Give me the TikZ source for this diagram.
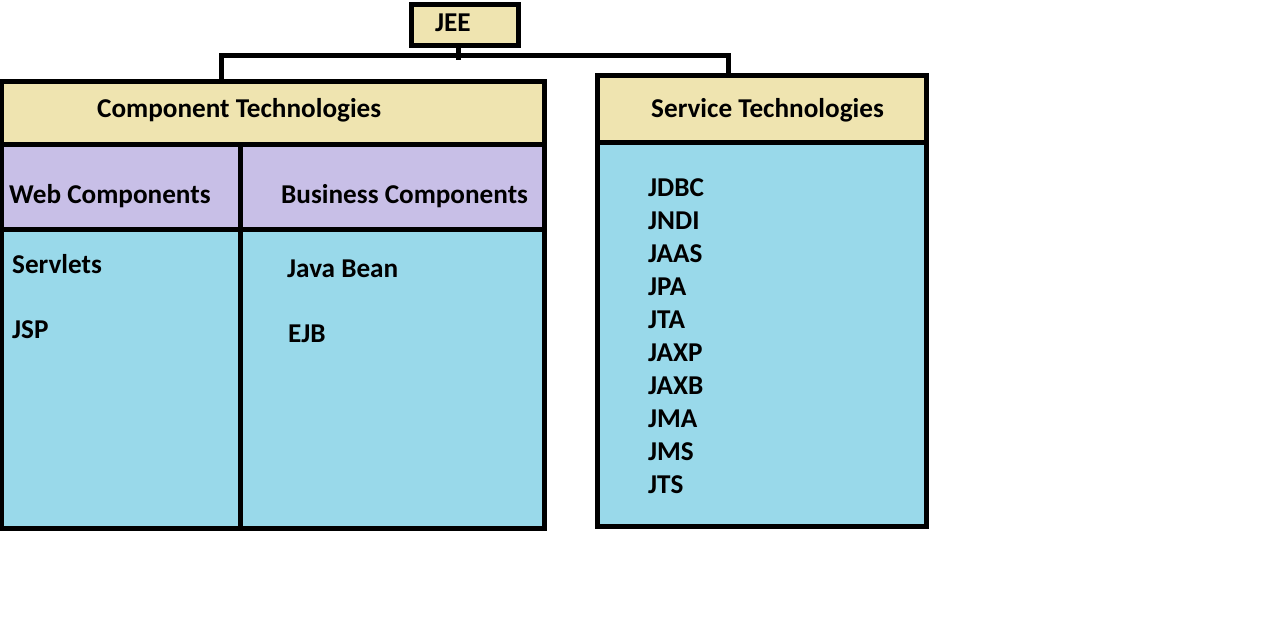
\documentclass[tikz,border=0pt]{standalone}
\usepackage{fontspec}
\setmainfont{Carlito}
\definecolor{beige}{RGB}{239,228,176}
\definecolor{lav}{RGB}{200,191,231}
\definecolor{sky}{RGB}{153,217,234}
\begin{document}
\begin{tikzpicture}[x=1pt,y=-1pt,
  box/.style={draw=black,line width=5pt,inner sep=0pt,outer sep=0pt,anchor=north west},
  txt/.style={anchor=base west,inner sep=0pt,font=\fontsize{27.2}{31}\selectfont\bfseries},
  conn/.style={draw=black,line width=5pt,line join=miter}]
\useasboundingbox (0,0) rectangle (1274,624);
% boxes
\node[box,fill=beige,minimum width=106.5pt,minimum height=40.5pt] (jee) at (411.5,4.5) {};
\node[box,fill=beige,minimum width=543pt,minimum height=62.3pt] (comphead) at (1.5,81.7) {};
\node[box,fill=lav,minimum width=239pt,minimum height=85pt] (web) at (1.5,144) {};
\node[box,fill=lav,minimum width=304pt,minimum height=85pt] (bus) at (240.5,144) {};
\node[box,fill=sky,minimum width=239pt,minimum height=299pt] (webbody) at (1.5,229) {};
\node[box,fill=sky,minimum width=304pt,minimum height=299pt] (busbody) at (240.5,229) {};
\node[box,fill=beige,minimum width=329pt,minimum height=67pt] (servhead) at (597.5,75.5) {};
\node[box,fill=sky,minimum width=329pt,minimum height=384pt] (servbody) at (597.5,142.5) {};
% texts
\node[txt] (tjee) at (435,31) {JEE};
\node[txt] (tcomp) at (97,117) {Component Technologies};
\node[txt] (tserv) at (651,117) {Service Technologies};
\node[txt] (tweb) at (9,203) {Web Components};
\node[txt] (tbus) at (281,203) {Business Components};
\node[txt] (tservlets) at (12,273) {Servlets};
\node[txt] (tjsp) at (12,338) {JSP};
\node[txt] (tbean) at (287,277) {Java Bean};
\node[txt] (tejb) at (288,342) {EJB};
\foreach \t [count=\i from 0] in {JDBC,JNDI,JAAS,JPA,JTA,JAXP,JAXB,JMA,JMS,JTS}
  \node[txt] (s\i) at (648,196+33*\i) {\t};
% connectors
\coordinate (stub) at (458,60);
\coordinate (cl) at (221.7,55.3);
\coordinate (cr) at (728.5,55.3);
\draw[conn] (stub |- jee.south) -- (stub);
\draw[conn] (cl |- comphead.north) -- (cl) -- (cr) -- (cr |- servhead.north);
\end{tikzpicture}
\end{document}
